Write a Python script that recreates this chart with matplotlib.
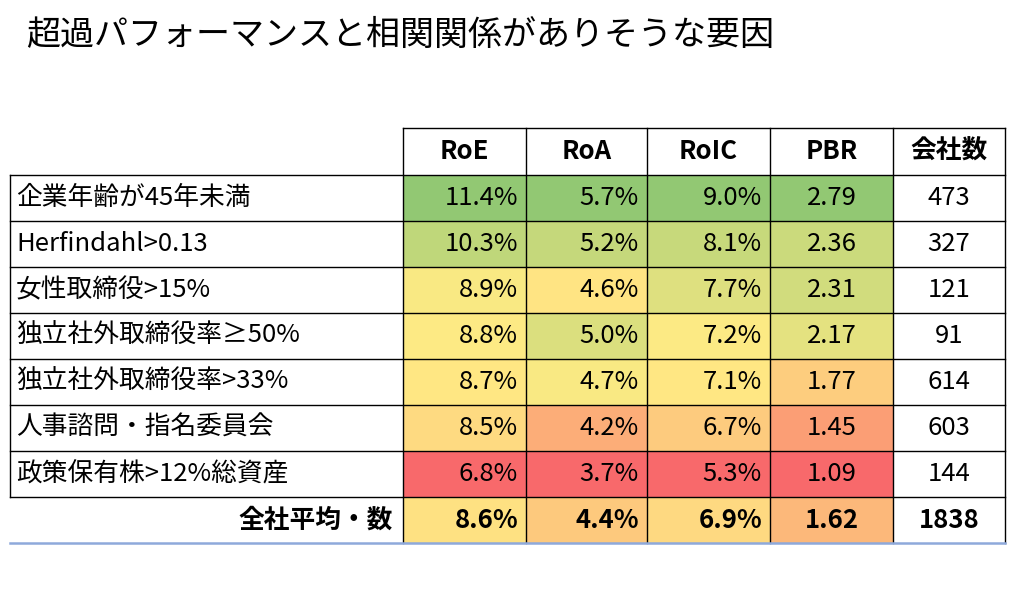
import numpy as np
import matplotlib.pyplot as plt
from matplotlib.colors import LinearSegmentedColormap, TwoSlopeNorm
from matplotlib.patches import Rectangle

plt.rcParams['font.family'] = ['Noto Sans CJK JP', 'DejaVu Sans']

title = '超過パフォーマンスと相関関係がありそうな要因'
headers = ['RoE', 'RoA', 'RoIC', 'PBR', '会社数']
factors = ['企業年齢が45年未満', 'Herfindahl>0.13', '女性取締役>15%', '独立社外取締役率≥50%',
           '独立社外取締役率>33%', '人事諮問・指名委員会', '政策保有株>12%総資産']
avg_label = '全社平均・数'
roe = [11.4, 10.3, 8.9, 8.8, 8.7, 8.5, 6.8]
roa = [5.7, 5.2, 4.6, 5.0, 4.7, 4.2, 3.7]
roic = [9.0, 8.1, 7.7, 7.2, 7.1, 6.7, 5.3]
pbr = [2.79, 2.36, 2.31, 2.17, 1.77, 1.45, 1.09]
companies = [473, 327, 121, 91, 614, 603, 144]
avg_vals = [8.6, 4.4, 6.9, 1.62, 1838]

cmap = LinearSegmentedColormap.from_list('ryg', ['#F8696B', '#FFEB84', '#92C873'])

col_x = [403, 526, 647, 770, 893, 1005]
left_x = 10
row_y = [128, 175, 221, 267, 313, 359, 405, 451, 497, 543]

fig = plt.figure(figsize=(10.24, 6.02), dpi=100)
ax = fig.add_axes([0, 0, 1, 1])
ax.set_xlim(0, 1024)
ax.set_ylim(602, 0)
ax.axis('off')

ax.text(26, 35, title, fontsize=24.5, va='center', ha='left')

fs = 18.5
# header
for j, h in enumerate(headers):
    cx = (col_x[j] + col_x[j + 1]) / 2
    ax.text(cx, (row_y[0] + row_y[1]) / 2, h, fontsize=fs, fontweight='bold', ha='center', va='center')

series = [roe, roa, roic, pbr]
fmts = ['{:.1f}%', '{:.1f}%', '{:.1f}%', '{:.2f}']
for j, s in enumerate(series):
    allv = np.array(s + [avg_vals[j]])
    norm = TwoSlopeNorm(vcenter=np.median(allv), vmin=allv.min(), vmax=allv.max())
    for i, v in enumerate(allv):
        y0, y1 = row_y[i + 1], row_y[i + 2]
        ax.add_patch(Rectangle((col_x[j], y0), col_x[j + 1] - col_x[j], y1 - y0,
                               facecolor=cmap(norm(v)), edgecolor='none'))
        bold = 'bold' if i == len(s) else 'normal'
        if j < 3:
            ax.text(col_x[j + 1] - 8, (y0 + y1) / 2, fmts[j].format(v), fontsize=fs,
                    fontweight=bold, ha='right', va='center')
        else:
            ax.text((col_x[j] + col_x[j + 1]) / 2, (y0 + y1) / 2, fmts[j].format(v), fontsize=fs,
                    fontweight=bold, ha='center', va='center')

for i, n in enumerate(companies + [avg_vals[4]]):
    y0, y1 = row_y[i + 1], row_y[i + 2]
    ax.text((col_x[4] + col_x[5]) / 2, (y0 + y1) / 2, str(n), fontsize=fs,
            fontweight='bold' if i == len(companies) else 'normal', ha='center', va='center')

for i, f in enumerate(factors):
    ax.text(left_x + 6, (row_y[i + 1] + row_y[i + 2]) / 2, f, fontsize=fs, ha='left', va='center')
ax.text(col_x[0] - 10, (row_y[-2] + row_y[-1]) / 2, avg_label, fontsize=fs, fontweight='bold',
        ha='right', va='center')

# grid lines
lw = 1.0
ax.plot([col_x[0], col_x[-1]], [row_y[0], row_y[0]], color='black', lw=lw)
for y in row_y[1:-1]:
    ax.plot([left_x, col_x[-1]], [y, y], color='black', lw=lw)
for x in col_x:
    ax.plot([x, x], [row_y[0], row_y[-1]], color='black', lw=lw)
ax.plot([left_x, left_x], [row_y[1], row_y[-2]], color='black', lw=lw)
ax.plot([left_x, col_x[-1]], [row_y[-1], row_y[-1]], color='#8EA9DB', lw=1.8)

fig.savefig('out.png', dpi=100)
